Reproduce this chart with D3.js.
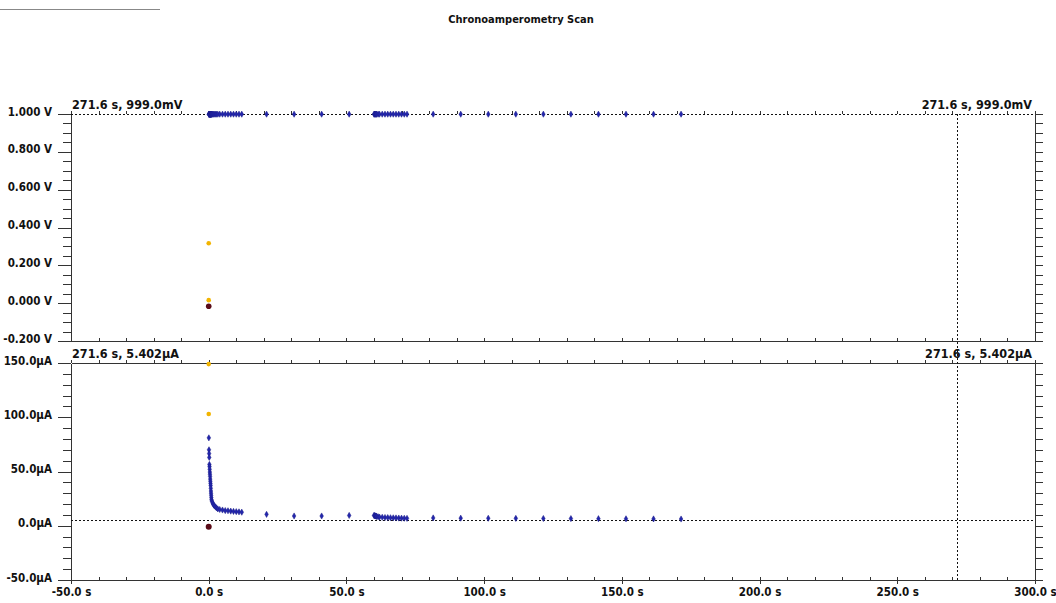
<!DOCTYPE html>
<html lang="en">
<head>
<meta charset="UTF-8">
<title>Chronoamperometry Scan</title>
<script src="https://cdn.jsdelivr.net/npm/d3@7"></script>
<style>
  body { margin: 0; background: #fff; }
  svg { display: block; }
  text { font-family: "Liberation Sans Narrow", "Arial Narrow", "DejaVu Sans Condensed", sans-serif; fill: #111; }
  .axis path, .axis line { stroke: #333; shape-rendering: crispEdges; }
  .axis text { font-size: 11.5px; font-weight: bold; fill: #111; }
  .dots { stroke: #111; stroke-dasharray: 2,2; shape-rendering: crispEdges; }
</style>
</head>
<body>
<svg id="chart" width="1056" height="603"></svg>
<script>
// time (s) of the blue samples, shared by both panels
var times = [0.05, 0.1, 0.15, 0.2, 0.25, 0.3, 0.35, 0.4, 0.45, 0.5, 0.55, 0.6, 0.65, 0.7, 0.75, 0.8, 0.85, 0.9, 0.95, 1.0,
  1.2, 1.4, 1.7, 2.0, 2.4, 2.8, 3.3, 4, 5, 6, 7, 8, 9, 10, 11, 12,
  21, 31, 41, 51,
  60, 60.2, 60.4, 60.6, 60.8, 61, 61.5, 62, 63, 64, 65, 66, 67, 68, 69, 70, 71, 72,
  81.5, 91.5, 101.5, 111.5, 121.5, 131.5, 141.5, 151.5, 161.5, 171.5];
// current (uA) of the blue samples
var current = [81, 70, 66.5, 63, 56.5, 54.5, 52, 49.5, 47.5, 45.5, 43, 41, 39, 37, 34.5, 32, 30, 28, 26, 24,
  22.5, 21, 19.5, 18.5, 17.5, 16.5, 15.5, 15, 14.5, 14, 13.8, 13.5, 13.2, 13, 12.8, 12.5,
  10.5, 9, 9, 9.5,
  9.5, 9.3, 9.1, 9, 8.8, 8.6, 8.3, 8, 7.8, 7.6, 7.5, 7.4, 7.3, 7.2, 7.1, 7, 6.9, 6.8,
  7.2, 7, 6.9, 6.8, 6.7, 6.6, 6.5, 6.4, 6.3, 6.2];
// applied potential (V) of the blue samples
var potential = times.map(function () { return 0.999; });

// initial samples at t = 0
var startTimes = [0, 0];
var startPotential = [0.317, 0.016];
var startCurrent = [149, 103];
var restPotential = -0.016;
var restCurrent = -1;

var xTicks = [-50, 0, 50, 100, 150, 200, 250, 300];
var vTicks = [-0.2, 0, 0.2, 0.4, 0.6, 0.8, 1.0];
var iTicks = [-50, 0, 50, 100, 150];
var cursorTime = 271.6, cursorV = 0.999, cursorI = 5.402;

var svg = d3.select("#chart");
var x = d3.scaleLinear().domain([-50, 300]).range([71, 1035]);
var yV = d3.scaleLinear().domain([-0.2, 1.0]).range([341, 114]);
var yI = d3.scaleLinear().domain([-50, 150]).range([580, 363]);

// top-left rule and title
svg.append("line").attr("x1", 0).attr("x2", 160).attr("y1", 9.5).attr("y2", 9.5)
  .attr("stroke", "#888");
svg.append("text").attr("x", 521).attr("y", 23).attr("text-anchor", "middle")
  .style("font-size", "11px").style("font-weight", "bold").text("Chronoamperometry Scan");

function minorX(y, orient) {
  var ax = (orient === "top" ? d3.axisTop(x) : d3.axisBottom(x))
    .tickValues(d3.range(-50, 300.1, 10)).tickSize(3).tickSizeOuter(0).tickFormat("");
  return svg.append("g").attr("class", "axis").attr("transform", "translate(0," + y + ")").call(ax);
}

// ---- upper panel: potential
svg.append("g").attr("class", "axis").attr("transform", "translate(71,0)")
  .call(d3.axisLeft(yV).tickValues(d3.range(-0.2, 1.001, 0.05)).tickSize(8).tickSizeOuter(0).tickFormat(""));
svg.append("g").attr("class", "axis").attr("transform", "translate(71,0)")
  .call(d3.axisLeft(yV).tickValues(vTicks).tickSize(13).tickPadding(6).tickSizeOuter(0)
    .tickFormat(function (d) { return d.toFixed(3) + " V"; }))
  .selectAll("text").attr("dy", "0.1em");
svg.append("g").attr("class", "axis").attr("transform", "translate(1035,0)")
  .call(d3.axisRight(yV).tickValues(d3.range(-0.2, 1.001, 0.05)).tickSize(8).tickSizeOuter(0).tickFormat(""));
minorX(341, "top");
var topAx = minorX(114, "top");
topAx.select(".domain").remove();

// ---- lower panel: current
svg.append("g").attr("class", "axis").attr("transform", "translate(71,0)")
  .call(d3.axisLeft(yI).tickValues(d3.range(-50, 150.1, 10)).tickSize(8).tickSizeOuter(0).tickFormat(""));
svg.append("g").attr("class", "axis").attr("transform", "translate(71,0)")
  .call(d3.axisLeft(yI).tickValues(iTicks).tickSize(13).tickPadding(6).tickSizeOuter(0)
    .tickFormat(function (d) { return d.toFixed(1) + "\u00b5A"; }))
  .selectAll("text").attr("dy", "0.1em");
svg.append("g").attr("class", "axis").attr("transform", "translate(1035,0)")
  .call(d3.axisRight(yI).tickValues(d3.range(-50, 150.1, 10)).tickSize(8).tickSizeOuter(0).tickFormat(""));
minorX(363, "top");
minorX(580, "top");
svg.append("g").attr("class", "axis").attr("transform", "translate(0,580)")
  .call(d3.axisBottom(x).tickValues(xTicks).tickSize(4).tickPadding(4).tickSizeOuter(0)
    .tickFormat(function (d) { return d.toFixed(1) + " s"; }));

// cursor lines
svg.append("line").attr("class", "dots").attr("x1", x(-50)).attr("x2", x(300))
  .attr("y1", Math.round(yV(cursorV)) + 0.5).attr("y2", Math.round(yV(cursorV)) + 0.5);
svg.append("line").attr("class", "dots").attr("x1", x(-50)).attr("x2", x(300))
  .attr("y1", Math.round(yI(cursorI)) + 0.5).attr("y2", Math.round(yI(cursorI)) + 0.5);
svg.append("line").attr("class", "dots")
  .attr("x1", Math.round(x(cursorTime)) + 0.5).attr("x2", Math.round(x(cursorTime)) + 0.5)
  .attr("y1", yV(1.0)).attr("y2", yI(-50));

// cursor readouts
var vLabel = cursorTime.toFixed(1) + " s, " + (cursorV * 1000).toFixed(1) + "mV";
var iLabel = cursorTime.toFixed(1) + " s, " + cursorI.toFixed(3) + "\u00b5A";
[[72, 109, "start", vLabel], [1032, 109, "end", vLabel], [72, 358, "start", iLabel], [1032, 358, "end", iLabel]]
  .forEach(function (l) {
    svg.append("text").attr("x", l[0]).attr("y", l[1]).attr("text-anchor", l[2])
      .style("font-size", "12.5px").style("font-weight", "bold").text(l[3]);
  });

// markers
var diamond = d3.symbol().type(d3.symbolDiamond).size(11);
function blue(yScale, values) {
  svg.append("g").selectAll("path").data(times).enter().append("path")
    .attr("d", diamond)
    .attr("transform", function (d, i) { return "translate(" + x(d) + "," + yScale(values[i]) + ")"; })
    .attr("fill", "#2326ad").attr("stroke", "#1a1c88").attr("stroke-width", 0.5);
}
blue(yV, potential);
blue(yI, current);

function yellow(yScale, values) {
  svg.append("g").selectAll("circle").data(startTimes).enter().append("circle")
    .attr("cx", function (d) { return x(d); })
    .attr("cy", function (d, i) { return yScale(values[i]); })
    .attr("r", 2.3).attr("fill", "#f2b400");
}
yellow(yV, startPotential);
yellow(yI, startCurrent);

svg.append("circle").attr("cx", x(0)).attr("cy", yV(restPotential)).attr("r", 2.8).attr("fill", "#5a0c18");
svg.append("circle").attr("cx", x(0)).attr("cy", yI(restCurrent)).attr("r", 3).attr("fill", "#5a0c18");
</script>
</body>
</html>
